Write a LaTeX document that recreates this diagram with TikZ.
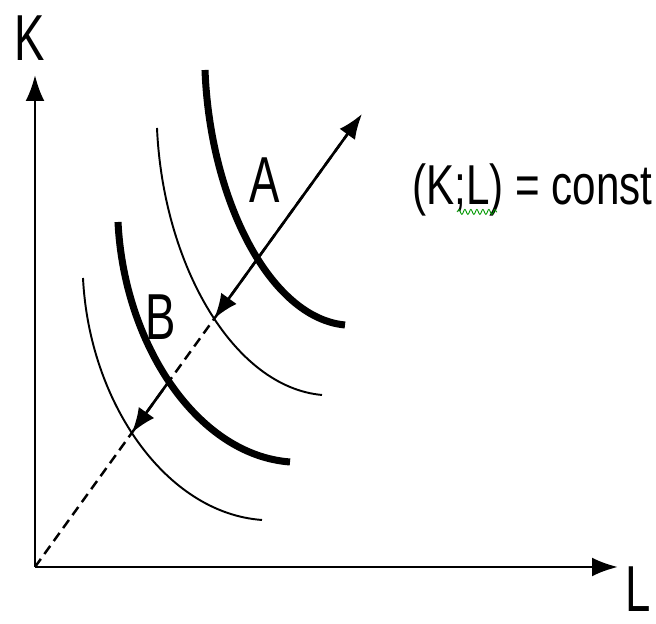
\documentclass[tikz,border=0pt]{standalone}
\usepackage{fontspec}
\setmainfont{Liberation Sans}
\usepackage{graphicx}
\usetikzlibrary{arrows.meta, intersections, decorations.pathmorphing}

\tikzset{
  axis/.style={line width=1.6pt, -{Latex[length=0.52cm, width=0.38cm]}},
  vec/.style={line width=1.5pt, -{Latex[length=0.5cm, width=0.38cm]}},
  thickcurve/.style={line width=4pt},
  thincurve/.style={line width=1.1pt},
  lbl/.style={inner sep=0pt, font=\fontsize{37}{40}\selectfont},
}

\begin{document}
\begin{tikzpicture}
  \useasboundingbox (0,0) rectangle (13.12,12.48);
  % axes
  \coordinate (O) at (0.70,1.14);
  \coordinate (E) at (7.24,10.20);
  \draw[axis] (O) -- (0.70,10.98) coordinate (ky);
  \draw[axis] (O) -- (12.36,1.14) coordinate (lx);
  \node[lbl] (K) at (0.60,11.72) {\scalebox{0.7}[1]{K}};
  \node[lbl, anchor=north west] (L) at (12.50,1.16) {\scalebox{0.7}[1]{L}};
  % ray of constant K:L
  \draw[line width=1.4pt, dash pattern=on 0.2cm off 0.12cm, name path=diag] (O) -- (E);
  % isoquants
  \draw[thickcurve, name path=qa] (4.10,11.08) .. controls (4.20,8.48) and (5.40,6.12) .. (6.90,5.98);
  \draw[thincurve, name path=q2] (3.14,9.92) .. controls (3.26,7.20) and (4.66,4.74) .. (6.44,4.58);
  \draw[thickcurve, name path=qb] (2.36,8.04) .. controls (2.48,5.60) and (3.94,3.38) .. (5.80,3.24);
  \draw[thincurve, name path=q4] (1.66,6.92) .. controls (1.78,4.46) and (3.30,2.22) .. (5.24,2.08);
  \path[name intersections={of=qa and diag, by=ia}];
  \path[name intersections={of=q2 and diag, by=i2}];
  \path[name intersections={of=qb and diag, by=ib}];
  \path[name intersections={of=q4 and diag, by=i4}];
  % arrows along the ray
  \draw[vec] (ia) -- (E);
  \draw[vec] (ia) -- (i2);
  \draw[vec] (ib) -- (i4);
  % labels
  \node[lbl] (A) at (5.30,8.88) {\scalebox{0.7}[1]{A}};
  \node[lbl] (B) at (3.22,6.14) {\scalebox{0.7}[1]{B}};
  \node[inner sep=0pt, anchor=base west, font=\fontsize{32}{36}\selectfont] (ratio) at (8.24,8.38)
    {\scalebox{0.75}[1]{(K;L) = const}};
  \draw[green!60!black, line width=0.5pt, decorate, decoration={snake, amplitude=0.05cm, segment length=0.12cm}]
    (9.14,8.24) -- (9.94,8.24);
\end{tikzpicture}
\end{document}
